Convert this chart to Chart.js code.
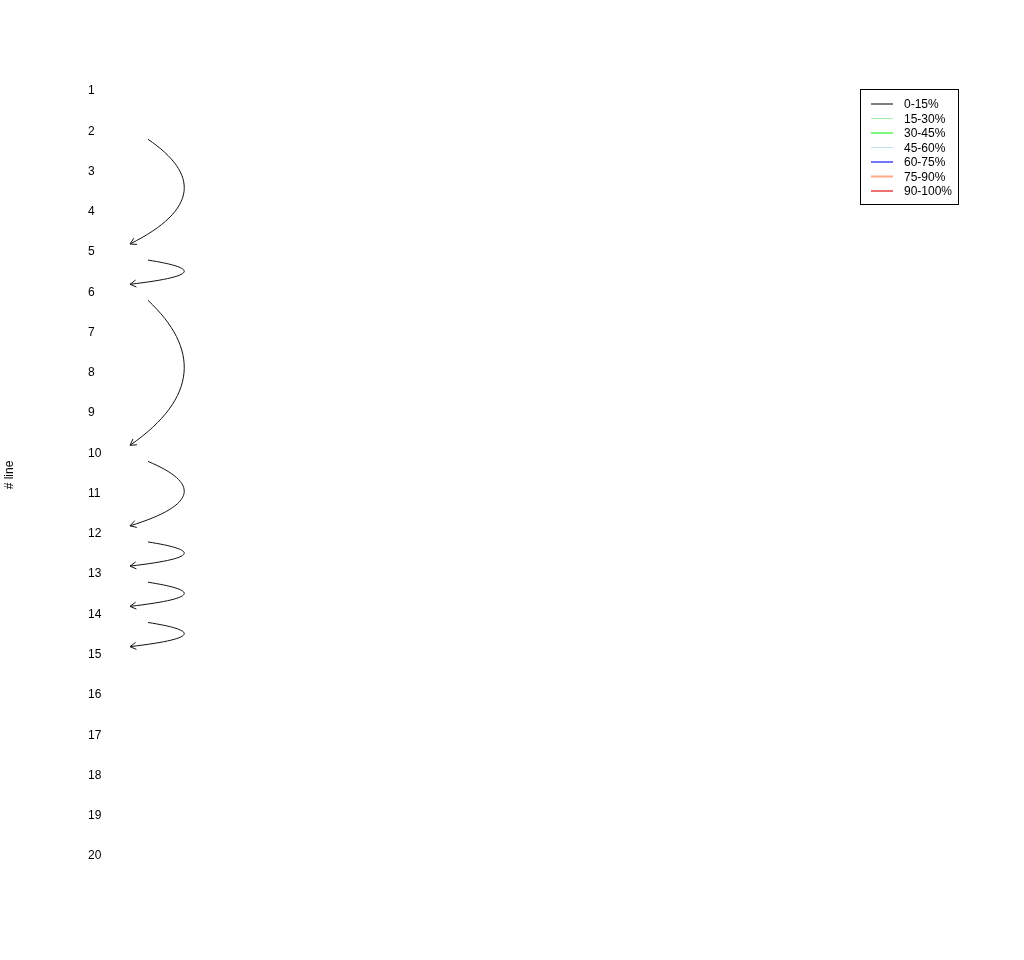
<!DOCTYPE html>
<html>
<head>
<meta charset="utf-8">
<script src="https://cdn.jsdelivr.net/npm/chart.js@4/dist/chart.umd.min.js"></script>
<style>
html,body{margin:0;padding:0;background:#fff;}
#wrap{width:1024px;height:960px;}
</style>
</head>
<body>
<div id="wrap"><canvas id="c" width="1024" height="960"></canvas></div>
<script>
// ---- data ----
const tickLabels = [1,2,3,4,5,6,7,8,9,10,11,12,13,14,15,16,17,18,19,20];
const fromLine = [2, 5, 6, 10, 12, 13, 14];
const toLine   = [5, 6, 10, 12, 13, 14, 15];
const legendLabels = ['0-15%','15-30%','30-45%','45-60%','60-75%','75-90%','90-100%'];
const legendColors = ['#7f7f7f','#a6f0a6','#7cf77c','#bfe3ee','#4646ff','#ffa98a','#e84040'];
const legendWidths = [2, 1, 2, 1, 1.5, 2, 1.5];
const arcColor = '#111111';
const yTitle = '# line';

const FONT = '"Liberation Sans", Arial, Helvetica, sans-serif';

const arcPlugin = {
  id: 'arcs',
  afterDatasetsDraw(chart) {
    const ctx = chart.ctx, xs = chart.scales.x, ys = chart.scales.y;
    ctx.save();
    ctx.strokeStyle = arcColor;
    ctx.lineWidth = 1;
    for (let i = 0; i < fromLine.length; i++) {
      const y0 = ys.getPixelForValue(fromLine[i] + 0.2);
      const y1 = ys.getPixelForValue(toLine[i] - 0.2);
      const x0 = xs.getPixelForValue(148), x1 = xs.getPixelForValue(130);
      const cx = xs.getPixelForValue(199);
      const d = 0.33 * (y1 - y0);
      const c1 = [cx, y0 + d], c2 = [cx, y1 - d];
      ctx.beginPath();
      ctx.moveTo(x0, y0);
      ctx.bezierCurveTo(c1[0], c1[1], c2[0], c2[1], x1, y1);
      ctx.stroke();
      // arrow head
      const ang = Math.atan2(y1 - c2[1], x1 - c2[0]);
      const L = 7, a = Math.PI / 6;
      ctx.beginPath();
      ctx.moveTo(x1 - L * Math.cos(ang - a), y1 - L * Math.sin(ang - a));
      ctx.lineTo(x1, y1);
      ctx.lineTo(x1 - L * Math.cos(ang + a), y1 - L * Math.sin(ang + a));
      ctx.stroke();
    }
    ctx.restore();
  }
};

const decoPlugin = {
  id: 'deco',
  afterDraw(chart) {
    const ctx = chart.ctx;
    ctx.save();
    // y title
    ctx.fillStyle = '#000';
    ctx.font = '12px ' + FONT;
    ctx.textAlign = 'center';
    ctx.textBaseline = 'middle';
    ctx.translate(10, 475);
    ctx.rotate(-Math.PI / 2);
    ctx.fillText(yTitle, 0, 0);
    ctx.restore();
    // legend
    ctx.save();
    ctx.strokeStyle = '#000';
    ctx.lineWidth = 1;
    ctx.strokeRect(860.5, 89.5, 98, 115);
    ctx.font = '12px ' + FONT;
    ctx.textAlign = 'left';
    ctx.textBaseline = 'middle';
    for (let i = 0; i < legendLabels.length; i++) {
      const y = 104 + i * 14.5;
      ctx.strokeStyle = legendColors[i];
      ctx.lineWidth = legendWidths[i];
      ctx.beginPath();
      ctx.moveTo(871, y);
      ctx.lineTo(893, y);
      ctx.stroke();
      ctx.fillStyle = '#000';
      ctx.fillText(legendLabels[i], 904, y + 1);
    }
    ctx.restore();
  }
};

new Chart(document.getElementById('c'), {
  type: 'scatter',
  data: { datasets: [{ data: [], pointRadius: 0 }] },
  options: {
    responsive: false,
    animation: false,
    layout: { padding: { left: 88, right: 0, top: 50.74, bottom: 63.74 } },
    plugins: { legend: { display: false }, tooltip: { enabled: false } },
    scales: {
      x: { type: 'linear', display: false, min: 105, max: 1024 },
      y: {
        type: 'linear', reverse: true, min: 0, max: 21,
        afterFit(s) { s.width = 17; },
        afterBuildTicks(s) { s.ticks = tickLabels.map(v => ({ value: v })); },
        grid: { display: false, drawTicks: false },
        border: { display: false },
        ticks: {
          crossAlign: 'far', padding: 0, autoSkip: false,
          color: '#000', font: { size: 12, family: FONT },
          callback: v => String(v)
        }
      }
    }
  },
  plugins: [arcPlugin, decoPlugin]
});
</script>
</body>
</html>
